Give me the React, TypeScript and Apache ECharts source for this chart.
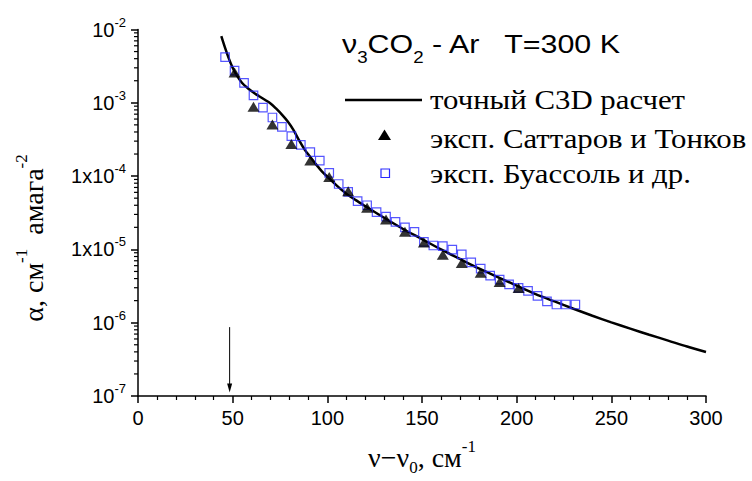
import React, { useEffect, useRef } from "react";
import * as echarts from "echarts";

// exact C3D calculation curve
const curveX = [44, 46, 48, 50, 52, 55, 58, 61, 64, 67, 70, 73, 76, 79, 82, 85, 88, 91, 94, 97, 100, 105, 110, 115, 120, 130, 140, 150, 160, 170, 180, 190, 200, 210, 220, 230, 240, 250, 260, 270, 280, 290, 300];
const curveY = [8.1e-3, 5.6e-3, 4.0e-3, 3.0e-3, 2.4e-3, 1.86e-3, 1.58e-3, 1.38e-3, 1.23e-3, 1.1e-3, 9.8e-4, 8.3e-4, 6.9e-4, 5.6e-4, 4.3e-4, 3.1e-4, 2.3e-4, 1.82e-4, 1.45e-4, 1.17e-4, 9.8e-5, 7.4e-5, 5.75e-5, 4.7e-5, 3.9e-5, 2.7e-5, 1.9e-5, 1.38e-5, 1.0e-5, 7.4e-6, 5.5e-6, 4.2e-6, 3.2e-6, 2.45e-6, 1.95e-6, 1.55e-6, 1.245e-6, 1.01e-6, 8.3e-7, 6.85e-7, 5.7e-7, 4.73e-7, 3.98e-7];

// Sattarov & Tonkov experiment
const triX = [51, 61, 71, 81, 91, 101, 111, 121, 131, 141, 151, 161, 171, 181, 191, 201];
const triY = [2.6e-3, 8.8e-4, 5.05e-4, 2.75e-4, 1.63e-4, 9.7e-5, 6.2e-5, 3.7e-5, 2.55e-5, 1.74e-5, 1.24e-5, 8.45e-6, 6.5e-6, 4.8e-6, 3.6e-6, 2.98e-6];

// Boissoles et al. experiment
const sqX = [46, 51, 56, 61, 66, 71, 76, 81, 86, 91, 96, 101, 106, 111, 116, 121, 126, 131, 136, 141, 146, 151, 156, 161, 166, 171, 176, 181, 186, 191, 196, 201, 206, 211, 216, 221, 226, 231];
const sqY = [4.2e-3, 2.75e-3, 1.87e-3, 1.26e-3, 8.6e-4, 6.3e-4, 4.7e-4, 3.5e-4, 2.67e-4, 2.12e-4, 1.63e-4, 1.11e-4, 7.8e-5, 6.1e-5, 4.55e-5, 4.0e-5, 3.22e-5, 2.8e-5, 2.37e-5, 2.0e-5, 1.73e-5, 1.27e-5, 1.13e-5, 1.11e-5, 9.9e-6, 8.55e-6, 6.65e-6, 5.45e-6, 4.38e-6, 3.86e-6, 3.34e-6, 2.98e-6, 2.71e-6, 2.32e-6, 1.96e-6, 1.77e-6, 1.77e-6, 1.77e-6];

// arrow marker (x, top, bottom)
const arrowX = 48.4;
const arrowTop = 8.7e-7;
const arrowBottom = 1.12e-7;

const xMin = 0;
const xMax = 300;
const xInterval = 50;
const yMin = 1e-7;
const yMax = 1e-2;

const legendLabels = ["точный C3D расчет", "эксп. Саттаров и Тонков", "эксп. Буассоль и др."];

const SANS = "Liberation Sans";
const SERIF = "Liberation Serif";

export default function App() {
  const ref = useRef<HTMLDivElement>(null);
  useEffect(() => {
    if (!ref.current) return;
    const chart = echarts.init(ref.current, undefined, { renderer: "svg" });

    const minorVals: number[] = [];
    for (let e = -7; e <= -3; e++) {
      for (let k = 2; k <= 9; k++) minorVals.push(k * Math.pow(10, e));
    }

    const legendText = (i: number, y: number) => ({
      type: "text",
      x: 430,
      y,
      scaleX: 1.1,
      style: { text: legendLabels[i], fontFamily: SERIF, fontSize: 28, fill: "#000", verticalAlign: "middle" },
    });

    const option: any = {
      animation: false,
      backgroundColor: "#fff",
      grid: { left: 138, right: 46, top: 29.5, bottom: 83.3, containLabel: false },
      xAxis: {
        type: "value",
        min: xMin,
        max: xMax,
        interval: xInterval,
        name: "{a|ν−ν}{sub|0}{a|, см}{sup|-1}",
        nameLocation: "middle",
        nameGap: 42,
        nameTextStyle: {
          rich: {
            a: { fontFamily: SERIF, fontSize: 28, color: "#000" },
            sub: { fontFamily: SERIF, fontSize: 17, color: "#000", padding: [20, 0, 0, 0] },
            sup: { fontFamily: SERIF, fontSize: 17, color: "#000", padding: [0, 0, 22, 0] },
          },
        },
        axisLine: { lineStyle: { color: "#000", width: 1.5 } },
        axisTick: { length: 7, lineStyle: { color: "#000", width: 1.5 } },
        minorTick: { show: true, splitNumber: 5, length: 4, lineStyle: { color: "#000", width: 1.2 } },
        splitLine: { show: false },
        axisLabel: { fontFamily: SANS, fontSize: 20, color: "#000", margin: 12 },
      },
      yAxis: {
        type: "log",
        logBase: 10,
        min: yMin,
        max: yMax,
        splitNumber: 5,
        axisLine: { show: true, lineStyle: { color: "#000", width: 1.5 } },
        axisTick: { length: 7, lineStyle: { color: "#000", width: 1.5 } },
        splitLine: { show: false },
        axisLabel: {
          margin: 12,
          formatter: (v: number) => {
            const e = Math.round(Math.log10(v));
            const pre = e === -4 || e === -5 ? "1x10" : "10";
            return `{n|${pre}}{s|${e}}`;
          },
          rich: {
            n: { fontFamily: SANS, fontSize: 20, color: "#000" },
            s: { fontFamily: SANS, fontSize: 13, color: "#000", padding: [0, 0, 15, 0] },
          },
        },
      },
      graphic: [
        {
          type: "text",
          x: 33,
          y: 238,
          rotation: Math.PI / 2,
          style: {
            text: "{a|α, см}{sup|-1}{a|  амага}{sup|-2}",
            align: "center",
            verticalAlign: "middle",
            rich: {
              a: { fontFamily: SERIF, fontSize: 28, fill: "#000" },
              sup: { fontFamily: SERIF, fontSize: 17, fill: "#000", padding: [0, 0, 24, 0] },
            },
          },
        },
        {
          type: "text",
          x: 342,
          y: 44,
          scaleX: 1.17,
          style: {
            text: "{n|ν}{sub|3}{n|CO}{sub|2}{n| - Ar   T=300 K}",
            verticalAlign: "middle",
            rich: {
              n: { fontFamily: SANS, fontSize: 26, fill: "#000" },
              sub: { fontFamily: SANS, fontSize: 16, fill: "#000", padding: [27, 0, 0, 0] },
            },
          },
        },
        { type: "line", shape: { x1: 345, y1: 100, x2: 422, y2: 100 }, style: { stroke: "#000", lineWidth: 2.5 } },
        legendText(0, 99.5),
        { type: "polygon", shape: { points: [[378, 140], [391, 140], [384.5, 129.5]] }, style: { fill: "#000" } },
        legendText(1, 138.5),
        { type: "rect", shape: { x: 381, y: 169, width: 8.5, height: 8.5 }, style: { fill: "none", stroke: "#2a2aff", lineWidth: 1.2 } },
        legendText(2, 173.5),
      ],
      series: [
        {
          type: "line",
          data: curveX.map((x, i) => [x, curveY[i]]),
          smooth: 0.3,
          showSymbol: false,
          lineStyle: { color: "#000", width: 2.5 },
          z: 2,
        },
        {
          type: "scatter",
          data: sqX.map((x, i) => [x, sqY[i]]),
          symbol: "rect",
          symbolSize: 8.5,
          itemStyle: { color: "rgba(0,0,0,0)", borderColor: "#2a2aff", borderWidth: 1.2 },
          z: 3,
        },
        {
          type: "scatter",
          data: triX.map((x, i) => [x, triY[i]]),
          symbol: "triangle",
          symbolSize: [12, 10],
          itemStyle: { color: "#000" },
          z: 4,
        },
        {
          type: "custom",
          data: minorVals.map((v) => [xMin, v]),
          clip: false,
          silent: true,
          renderItem: (params: any, api: any) => {
            const p = api.coord([api.value(0), api.value(1)]);
            return {
              type: "line",
              shape: { x1: p[0] - 4, y1: p[1], x2: p[0], y2: p[1] },
              style: { stroke: "#000", lineWidth: 1.2 },
            };
          },
          z: 5,
        },
        {
          type: "custom",
          data: [[arrowX, arrowTop, arrowBottom]],
          clip: false,
          silent: true,
          renderItem: (params: any, api: any) => {
            const t = api.coord([api.value(0), api.value(1)]);
            const b = api.coord([api.value(0), api.value(2)]);
            return {
              type: "group",
              children: [
                { type: "line", shape: { x1: t[0], y1: t[1], x2: b[0], y2: b[1] - 6 }, style: { stroke: "#000", lineWidth: 1 } },
                { type: "polygon", shape: { points: [[b[0] - 2.5, b[1] - 9], [b[0] + 2.5, b[1] - 9], [b[0], b[1]]] }, style: { fill: "#000" } },
              ],
            };
          },
          z: 5,
        },
      ],
    };
    chart.setOption(option);
    return () => chart.dispose();
  }, []);
  return (
    <div
      ref={ref}
      style={{ position: "fixed", left: 0, top: 0, width: 752, height: 481, background: "#fff" }}
    />
  );
}
